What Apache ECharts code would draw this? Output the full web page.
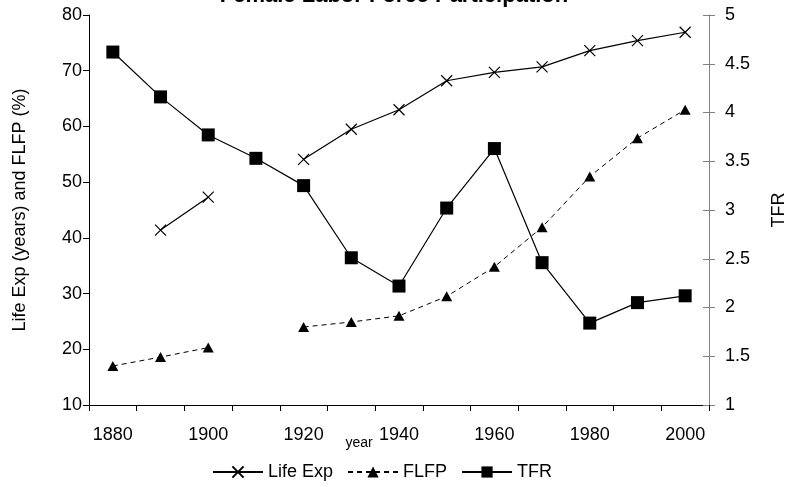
<!DOCTYPE html>
<html><head><meta charset="utf-8">
<script src="https://cdn.jsdelivr.net/npm/echarts@6/dist/echarts.min.js"></script>
<style>html,body{margin:0;padding:0;background:#fff}#c{width:788px;height:487px}</style>
</head><body><div id="c"></div>
<script>
const years = ['1880','1890','1900','1910','1920','1930','1940','1950','1960','1970','1980','1990','2000'];
const lifeExp = [null, 41.4, 47.3, null, 54.1, 59.5, 63.0, 68.2, 69.7, 70.7, 73.6, 75.4, 76.9];
const flfp    = [17.0, 18.6, 20.3, null, 24.0, 24.9, 26.0, 29.5, 34.8, 41.9, 51.0, 57.9, 63.0];
const tfr     = [4.62, 4.16, 3.77, 3.53, 3.25, 2.51, 2.22, 3.02, 3.63, 2.46, 1.84, 2.05, 2.12];

const FONT = 'Liberation Sans, Arial, sans-serif';
const chart = echarts.init(document.getElementById('c'), null, {renderer: 'canvas'});
const lblStyle = {color: '#000', fontFamily: FONT, fontSize: 18};
chart.setOption({
  animation: false,
  backgroundColor: '#fff',
  title: {
    text: 'Female Labor Force Participation',
    left: 'center', top: -20,
    textStyle: {color: '#000', fontFamily: FONT, fontSize: 22, fontWeight: 'bold'}
  },
  grid: {left: 89, right: 79, top: 15, bottom: 82, containLabel: false, outerBoundsMode: 'none'},
  legend: {
    left: 207, top: 458,
    itemWidth: 50, itemHeight: 14, itemGap: 14,
    textStyle: lblStyle,
    data: ['Life Exp', 'FLFP', 'TFR']
  },
  xAxis: {
    type: 'category', data: years, boundaryGap: true,
    name: 'year', nameLocation: 'middle', nameGap: 31, nameMoveOverlap: false,
    nameTextStyle: {color: '#000', fontFamily: FONT, fontSize: 14, padding: [0, 80, 0, 0]},
    axisLine: {lineStyle: {color: '#000', width: 1}},
    axisTick: {show: true, interval: 0, length: 6, lineStyle: {color: '#000'}},
    axisLabel: Object.assign({interval: 1, margin: 21}, lblStyle),
    splitLine: {show: false}
  },
  yAxis: [
    {
      type: 'value', min: 10, max: 80, interval: 10, position: 'left',
      name: 'Life Exp (years) and FLFP (%)', nameLocation: 'middle', nameGap: 60, nameRotate: 90,
      nameTextStyle: lblStyle,
      axisLine: {show: true, lineStyle: {color: '#000'}},
      axisTick: {show: true, length: 6, lineStyle: {color: '#000'}},
      axisLabel: Object.assign({margin: 7}, lblStyle),
      splitLine: {show: false}
    },
    {
      type: 'value', min: 1, max: 5, interval: 0.5, position: 'right',
      name: 'TFR', nameLocation: 'middle', nameGap: 61, nameRotate: 90,
      nameTextStyle: lblStyle,
      axisLine: {show: true, lineStyle: {color: '#808080'}},
      axisTick: {show: true, length: 6, lineStyle: {color: '#808080'}},
      axisLabel: Object.assign({margin: 16}, lblStyle),
      splitLine: {show: false}
    },
    {
      type: 'value', min: 1, max: 5, interval: 0.5, position: 'right', offset: 0,
      axisLine: {show: false},
      axisTick: {show: true, inside: true, length: 6, lineStyle: {color: '#808080'}},
      axisLabel: {show: false},
      splitLine: {show: false}
    }
  ],
  series: [
    {
      name: 'Life Exp', type: 'line', yAxisIndex: 0, data: lifeExp,
      symbol: 'path://M0,0L10,10M0,10L10,0', symbolSize: 11, showSymbol: true,
      itemStyle: {color: '#000', borderColor: '#000', borderWidth: 1.2},
      lineStyle: {color: '#000', width: 1.2, type: 'solid'},
      emphasis: {disabled: true}, connectNulls: false
    },
    {
      name: 'FLFP', type: 'line', yAxisIndex: 0, data: flfp,
      symbol: 'triangle', symbolSize: [11, 10],
      itemStyle: {color: '#000'},
      lineStyle: {color: '#000', width: 1, type: [5, 4]},
      emphasis: {disabled: true}, connectNulls: false
    },
    {
      name: 'TFR', type: 'line', yAxisIndex: 1, data: tfr,
      symbol: 'rect', symbolSize: 13,
      itemStyle: {color: '#000'},
      lineStyle: {color: '#000', width: 1.2, type: 'solid'},
      emphasis: {disabled: true}
    }
  ]
});
</script>
</body></html>
